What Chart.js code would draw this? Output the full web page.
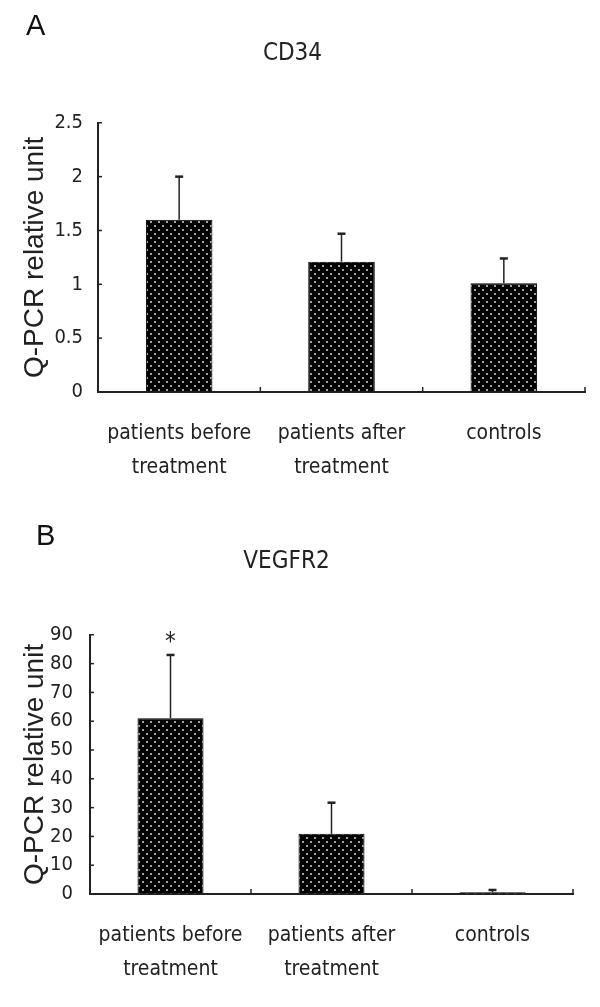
<!DOCTYPE html>
<html>
<head>
<meta charset="utf-8">
<script src="https://cdn.jsdelivr.net/npm/chart.js@4/dist/chart.umd.min.js"></script>
<style>
  body { margin: 0; background: #fff; width: 600px; height: 1007px; position: relative; overflow: hidden; }
  .panel { position: absolute; left: 0; width: 600px; }
  .letter { position: absolute; font-family: 'Liberation Sans', Arial, sans-serif; font-size: 29px; color: #111; }
</style>
</head>
<body>
<div class="panel" style="top:0; height:500px;"><canvas id="chart-a"></canvas></div>
<div class="panel" style="top:500px; height:507px;"><canvas id="chart-b"></canvas></div>
<div class="letter" style="left:26px; top:9px;">A</div>
<div class="letter" style="left:36px; top:519px;">B</div>
<script>
const categories = [['patients before', 'treatment'], ['patients after', 'treatment'], 'controls'];

// panel A - CD34
const cd34Means = [1.6, 1.21, 1.01];
const cd34Errors = [0.4, 0.26, 0.23];
const cd34Marks = ['', '', ''];

// panel B - VEGFR2
const vegfMeans = [61, 20.9, 0.6];
const vegfErrors = [22, 10.8, 0.8];
const vegfMarks = ['*', '', ''];

const NARROW = "'Liberation Sans Narrow', 'DejaVu Sans Condensed', sans-serif";
const INK = '#222';

// black fill with staggered grey dots, like the printed hatch
function dotPattern() {
  const c = document.createElement('canvas');
  c.width = 8; c.height = 8;
  const g = c.getContext('2d');
  g.fillStyle = '#000';
  g.fillRect(0, 0, 8, 8);
  g.fillStyle = '#a0a0a0';
  g.fillRect(2, 1, 2, 2);
  g.fillRect(6, 5, 2, 2);
  return g.createPattern(c, 'repeat');
}

const extrasPlugin = {
  id: 'extras',
  afterDatasetsDraw(chart, args, opts) {
    const ctx = chart.ctx;
    const x = chart.scales.x, y = chart.scales.y;
    const area = chart.chartArea;
    const meta = chart.getDatasetMeta(0);
    ctx.save();
    ctx.strokeStyle = INK;
    ctx.fillStyle = INK;

    // inward ticks on the y axis
    ctx.lineWidth = 1.5;
    y.ticks.forEach(t => {
      if (t.value === 0) return;
      const py = y.getPixelForValue(t.value);
      ctx.beginPath();
      ctx.moveTo(area.left, py);
      ctx.lineTo(area.left + 4, py);
      ctx.stroke();
    });

    // upward ticks at category boundaries
    const half = (x.getPixelForValue(1) - x.getPixelForValue(0)) / 2;
    for (let i = 0; i < categories.length; i++) {
      const px = x.getPixelForValue(i) + half;
      ctx.beginPath();
      ctx.moveTo(px, area.bottom);
      ctx.lineTo(px, area.bottom - 5);
      ctx.stroke();
    }

    // upper error whiskers + significance marks
    opts.means.forEach((m, i) => {
      const px = meta.data[i].x;
      const y0 = y.getPixelForValue(m);
      const y1 = y.getPixelForValue(m + opts.errors[i]);
      ctx.lineWidth = 1.5;
      ctx.beginPath();
      ctx.moveTo(px, y0);
      ctx.lineTo(px, y1);
      ctx.stroke();
      ctx.lineWidth = 2.5;
      ctx.beginPath();
      ctx.moveTo(px - 4, y1);
      ctx.lineTo(px + 4, y1);
      ctx.stroke();
      if (opts.marks[i]) {
        ctx.font = '24px ' + NARROW;
        ctx.textAlign = 'center';
        ctx.textBaseline = 'alphabetic';
        ctx.fillText(opts.marks[i], px, y1 - 6);
      }
    });
    ctx.restore();
  }
};

function makeChart(id, title, means, errors, marks, yMax, yStep, geom) {
  return new Chart(document.getElementById(id), {
    type: 'bar',
    data: {
      labels: categories,
      datasets: [{
        data: means,
        backgroundColor: dotPattern(),
        borderColor: '#000',
        borderWidth: 1,
        barPercentage: 0.41,
        categoryPercentage: 1
      }]
    },
    options: {
      responsive: true,
      maintainAspectRatio: false,
      animation: false,
      events: [],
      layout: { padding: { left: 0, right: geom.padRight, top: 0, bottom: 0 } },
      plugins: {
        legend: { display: false },
        tooltip: { enabled: false },
        title: {
          display: true,
          text: title,
          color: INK,
          font: { family: NARROW, size: 24, weight: 'normal' },
          padding: { top: geom.titleTop, bottom: geom.titleBottom }
        },
        extras: { means: means, errors: errors, marks: marks }
      },
      scales: {
        x: {
          offset: true,
          grid: { display: false, drawTicks: false },
          border: { display: true, color: INK, width: 2 },
          ticks: {
            color: INK,
            padding: 25,
            maxRotation: 0,
            autoSkip: false,
            font: { family: NARROW, size: 21, lineHeight: 1.62 }
          },
          afterFit(scale) { scale.height = geom.xHeight; }
        },
        y: {
          min: 0,
          max: yMax,
          grid: { drawOnChartArea: false, drawTicks: false },
          border: { display: true, color: INK, width: 2 },
          ticks: {
            stepSize: yStep,
            autoSkip: false,
            color: INK,
            padding: geom.tickPad,
            font: { family: NARROW, size: 20 },
            callback: v => String(v)
          },
          title: {
            display: true,
            text: 'Q-PCR relative unit',
            color: INK,
            font: { family: "'Liberation Sans', Arial, sans-serif", size: 28 },
            padding: { top: 18, bottom: 0 }
          },
          afterFit(scale) { scale.width = geom.yWidth; }
        }
      }
    },
    plugins: [extrasPlugin]
  });
}

makeChart('chart-a', 'CD34', cd34Means, cd34Errors, cd34Marks, 2.5, 0.5,
  { padRight: 15, titleTop: 39, titleBottom: 55, xHeight: 108, yWidth: 98, tickPad: 15 });
makeChart('chart-b', 'VEGFR2', vegfMeans, vegfErrors, vegfMarks, 90, 10,
  { padRight: 27, titleTop: 47, titleBottom: 59, xHeight: 113, yWidth: 90, tickPad: 17 });
</script>
</body>
</html>
